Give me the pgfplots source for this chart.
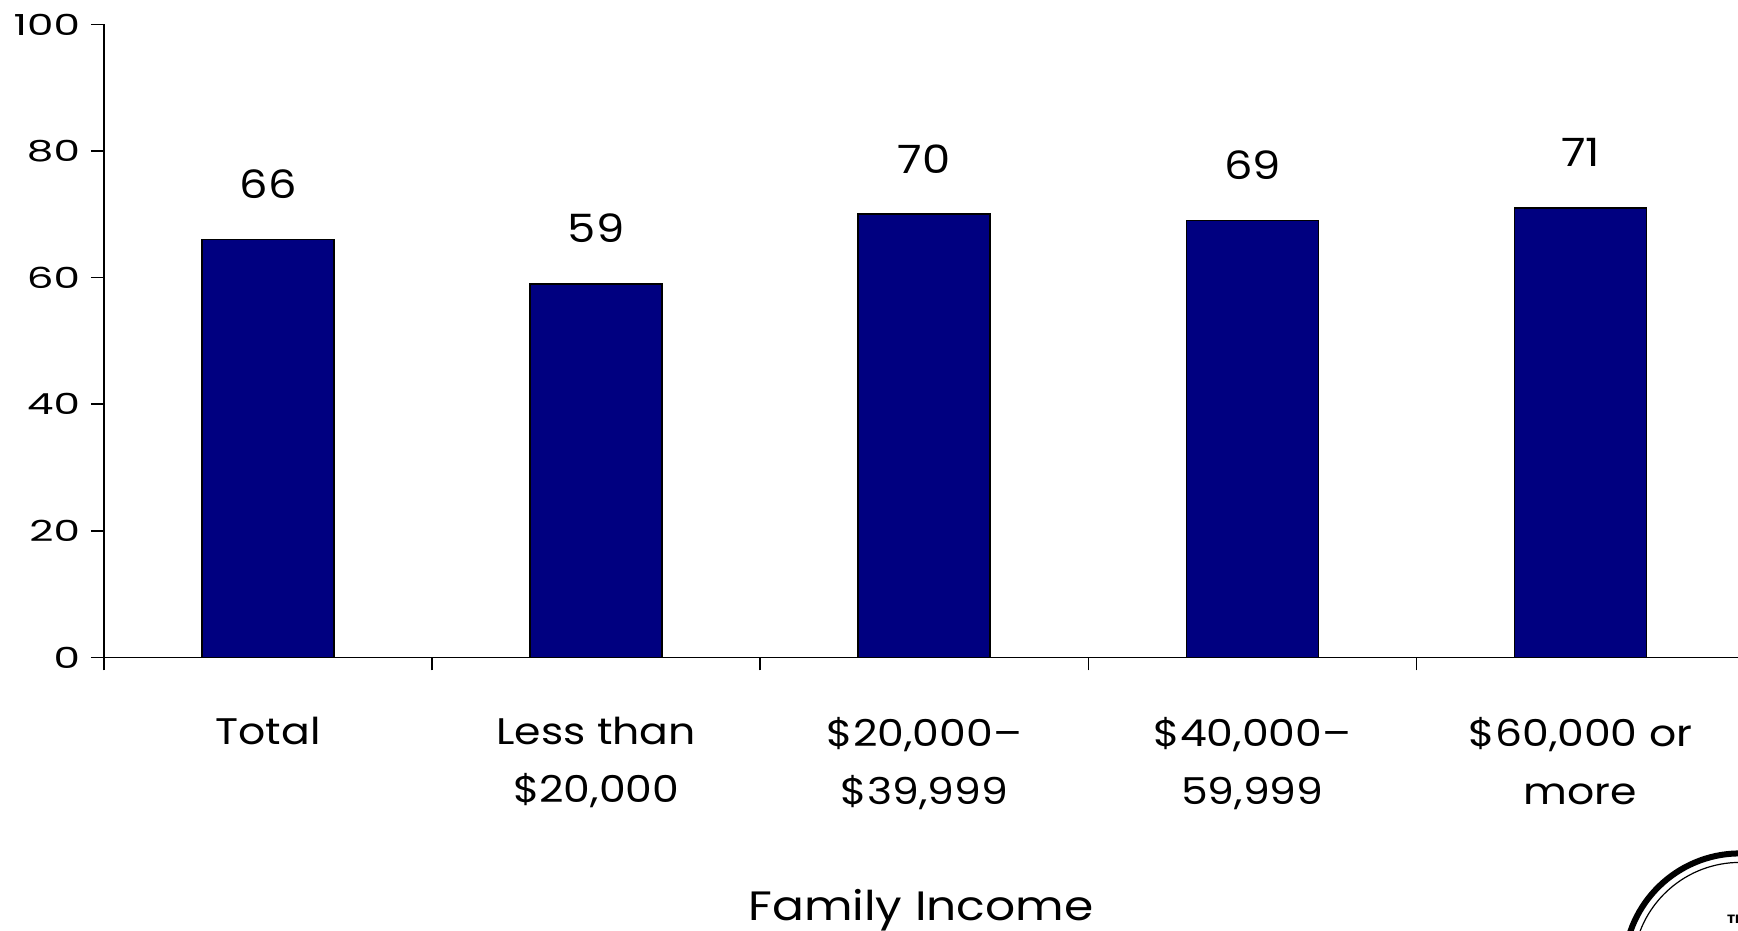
\documentclass[border=0pt]{standalone}
\usepackage{pgfplots}
\pgfplotsset{compat=1.18}
\usepackage{fontspec}
\setmainfont[FakeStretch=1.15]{Poppins}
\newfontfamily\tickfont[FakeStretch=1.45]{Poppins}
\definecolor{barnavy}{RGB}{0,0,128}

\begin{document}
\begin{tikzpicture}
\begin{axis}[
    name=ax,
    scale only axis,
    width=817pt, height=316.5pt,
    xmin=-0.5, xmax=4.48,
    ymin=0, ymax=100,
    axis x line*=bottom, axis y line*=left,
    axis line style={-, black, line width=0.8pt},
    tick style={black, line width=0.8pt},
    tick align=outside,
    major tick length=6.5pt,
    ytick={0,20,...,100},
    yticklabel style={font=\tickfont\fontsize{14.5}{16}\selectfont, xshift=-2pt},
    xtick={-0.5,0.5,1.5,2.5,3.5},
    xticklabels={},
    extra x ticks={0,1,2,3,4},
    extra x tick labels={Total, {Less than\\\$20,000}, {\$20,000–\\\$39,999}, {\$40,000–\\59,999}, {\$60,000 or\\more}},
    extra x tick style={major tick length=0pt,
        xticklabel style={font=\fontsize{18.5}{29}\selectfont, align=center, anchor=north, yshift=-26.5pt}},
    /pgf/number format/assume math mode=true,
    xlabel={Family Income},
    xlabel style={font=\fontsize{20.5}{24}\selectfont, at={(axis description cs:0.5,0)}, anchor=base, yshift=-131.5pt},
    ybar, bar width=66pt,
    nodes near coords,
    nodes near coords style={font=\fontsize{19.5}{22}\selectfont, anchor=base, yshift=20.5pt},
]
\addplot[fill=barnavy, draw=black, line width=0.8pt] coordinates {
    (0,66) (1,59) (2,70) (3,69) (4,71)
};
\end{axis}
% partial logo in the lower right corner
\draw[line width=3pt] ([xshift=818pt,yshift=-156pt]ax.south west) ++(175:58pt) arc (175:88:58pt);
\draw[line width=0.6pt] ([xshift=818pt,yshift=-156pt]ax.south west) ++(172:53.5pt) arc (172:90:53.5pt);
\node[font=\bfseries\fontsize{6}{7}\selectfont, anchor=base west] at ([xshift=808pt,yshift=-133pt]ax.south west) {TH};
\pgfresetboundingbox
\path ([xshift=-52pt,yshift=-136.65pt]ax.south west) rectangle ([yshift=12.2pt]ax.north east);
\end{tikzpicture}
\end{document}
